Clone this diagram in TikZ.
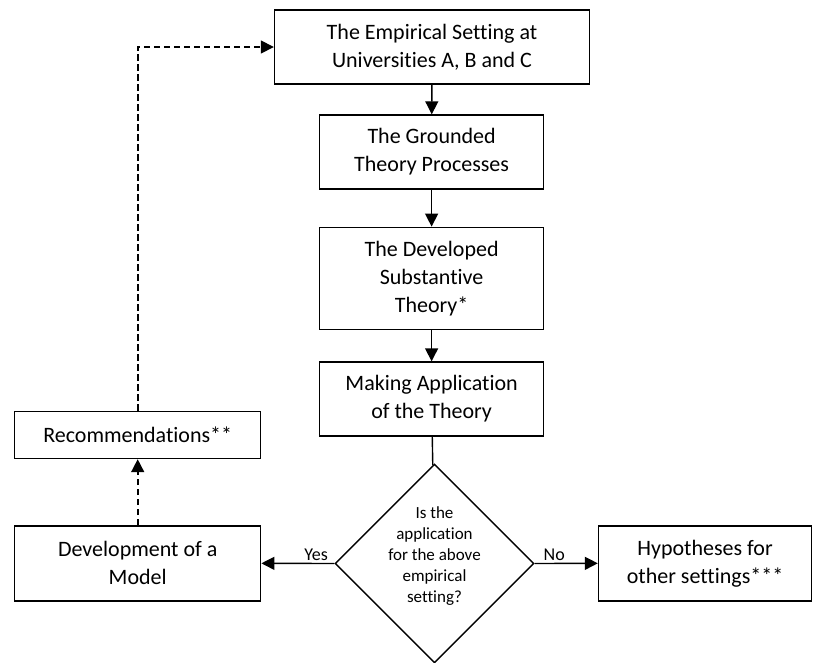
\documentclass[tikz,border=0pt]{standalone}
\usepackage{fontspec}
\setmainfont{Carlito}[Ligatures=NoCommon]
\usetikzlibrary{arrows.meta,shapes.geometric}
\tikzset{box/.style = {draw, line width=1.4pt, align=center, inner sep=0pt,
                       font=\fontsize{22}{28}\selectfont},
         flow/.style = {line width=1.4pt, -{Triangle[length=13pt,width=13pt]}},
         back/.style = {flow, line width=1.6pt, dash pattern=on 6.5pt off 3.5pt},
         decision/.style = {draw, diamond, aspect=1, line width=1.4pt, inner sep=0pt,
                            minimum width=199pt, minimum height=199pt},
         question/.style = {align=center, font=\fontsize{17}{21}\selectfont},
         answer/.style = {above, inner sep=2pt, font=\fontsize{18}{22}\selectfont}}

\begin{document}
\begin{tikzpicture}[x=1pt, y=-1pt]
\useasboundingbox (0,0) rectangle (813,662);
\node[box, minimum width=315pt, minimum height=74pt] (emp) at (432,47) {The Empirical Setting at\\Universities A, B and C};
\node[box, minimum width=224pt, minimum height=74pt] (gt) at (431.6,152) {The Grounded\\Theory Processes};
\node[box, minimum width=224pt, minimum height=102pt] (sub) at (431.6,278.3) {The Developed\\Substantive\\Theory*};
\node[box, minimum width=224pt, minimum height=74pt] (app) at (431.6,399) {Making Application\\of the Theory};
\node[decision] (dec) at (434.5,563.5) {};
\node[question] (q) at (434.5,555.7) {Is the\\application\\for the above\\empirical\\setting?};
\node[box, minimum width=246pt, minimum height=47pt] (rec) at (137.7,435) {Recommendations**};
\node[box, minimum width=246pt, minimum height=75pt] (dev) at (137.7,563.3) {Development of a\\Model};
\node[box, minimum width=213pt, minimum height=75pt] (hyp) at (705,563.3) {Hypotheses for\\other settings***};
\draw[flow] (emp) -- (gt);
\draw[flow] (gt) -- (sub);
\draw[flow] (sub) -- (app);
\draw[line width=1.4pt] (app) -- (dec);
\draw[flow] (dec.west) -- node[answer, pos=0.25] (yes) {Yes} (dev.east);
\draw[flow] (dec.east) -- node[answer, pos=0.31] (no) {No} (hyp.west);
\draw[back] (dev) -- (rec);
\draw[back] (rec.north) |- (emp.west);
\end{tikzpicture}
\end{document}
